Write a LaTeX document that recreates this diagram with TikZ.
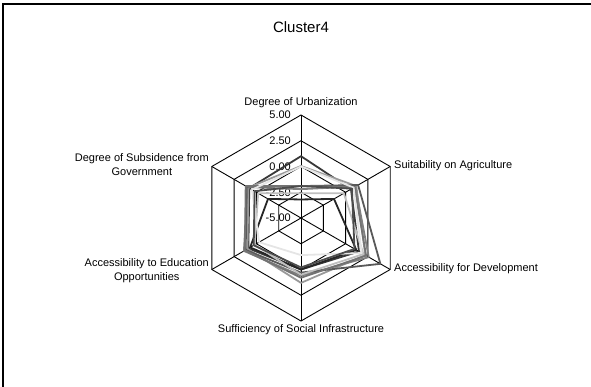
\documentclass[tikz,border=0pt]{standalone}
\usepackage{fontspec}
\setmainfont{Liberation Sans}
\newcommand\radarline[7]{\draw[ser,#1] (90:{(#2+5)*10.3}) -- (30:{(#3+5)*10.3}) -- (-30:{(#4+5)*10.3}) -- (-90:{(#5+5)*10.3}) -- (210:{(#6+5)*10.3}) -- (150:{(#7+5)*10.3}) -- cycle;}
\begin{document}
\begin{tikzpicture}[x=1pt,y=1pt,
  gridline/.style={draw=black, line width=0.9pt},
  ser/.style={line width=1.8pt, line join=round},
  lab/.style={font=\fontsize{11}{14}\selectfont, inner sep=0pt, align=center},
  ticklab/.style={font=\fontsize{11}{13}\selectfont, anchor=east, inner sep=0pt}]
\useasboundingbox (0,0) rectangle (591,-387);
\draw[line width=1.3pt] (3,-387) -- (3,-4) -- (591,-4);
\node[font=\fontsize{15}{18}\selectfont] (title) at (301,-27.5) {Cluster4};
\begin{scope}[shift={(301,-218)}]
 \coordinate (O) at (0,0);
 \foreach \n/\a in {U/90,A/30,D/-30,S/-90,E/210,G/150} { \coordinate (\n) at (\a:103); }
 \foreach \k in {1,2,3,4} {
   \draw[gridline] (90:{\k*25.75}) -- (30:{\k*25.75}) -- (-30:{\k*25.75}) -- (-90:{\k*25.75}) -- (210:{\k*25.75}) -- (150:{\k*25.75}) -- cycle;
 }
 \foreach \n in {U,A,D,S,E,G} { \draw[gridline] (O) -- (\n); }
 \node[ticklab] (t0) at (-10,0) {-5.00};
 \node[ticklab] (t1) at (-10,25.75) {-2.50};
 \node[ticklab] (t2) at (-10,51.5) {0.00};
 \node[ticklab] (t3) at (-10,77.25) {2.50};
 \node[ticklab] (t4) at (-10,103) {5.00};
 % series
 \radarline{draw=black!78}{1.0}{0.6}{1.5}{0.0}{0.9}{0.8}
 \radarline{draw=black!40}{0.05}{1.2}{2.2}{1.3}{1.0}{0.9}
 \radarline{draw=black!50}{-2.2}{1.1}{2.6}{0.6}{1.4}{1.0}
 \radarline{draw=black!65}{-1.9}{1.4}{3.9}{0.3}{1.2}{1.1}
 \radarline{draw=black!85}{-3.2}{-1.3}{1.2}{0.0}{0.7}{-1.3}
 \radarline{draw=black!25}{-2.6}{-0.2}{2.0}{0.5}{0.2}{-0.2}
 \radarline{draw=black!55}{-1.9}{1.0}{2.3}{0.8}{1.3}{1.2}
 \radarline{draw=black!10}{0.0}{0.9}{1.8}{-1.4}{-0.3}{0.5}
 \radarline{draw=black!70}{-1.9}{0.7}{1.0}{-0.2}{0.3}{0.2}
 % axis labels
 \node[lab, anchor=center] (lu) at (0,115.5) {Degree of Urbanization};
 \node[lab, anchor=west] (la) at (93,52) {Suitability on Agriculture};
 \node[lab, anchor=west] (ld) at (93,-51) {Accessibility for Development};
 \node[lab, anchor=north] (ls) at (0,-106) {Sufficiency of Social Infrastructure};
 \node[lab, anchor=east] (lg) at (-92,53) {Degree of Subsidence from\\Government};
 \node[lab, anchor=east] (le) at (-92,-52.5) {Accessibility to Education\\Opportunities};
\end{scope}
\end{tikzpicture}
\end{document}
